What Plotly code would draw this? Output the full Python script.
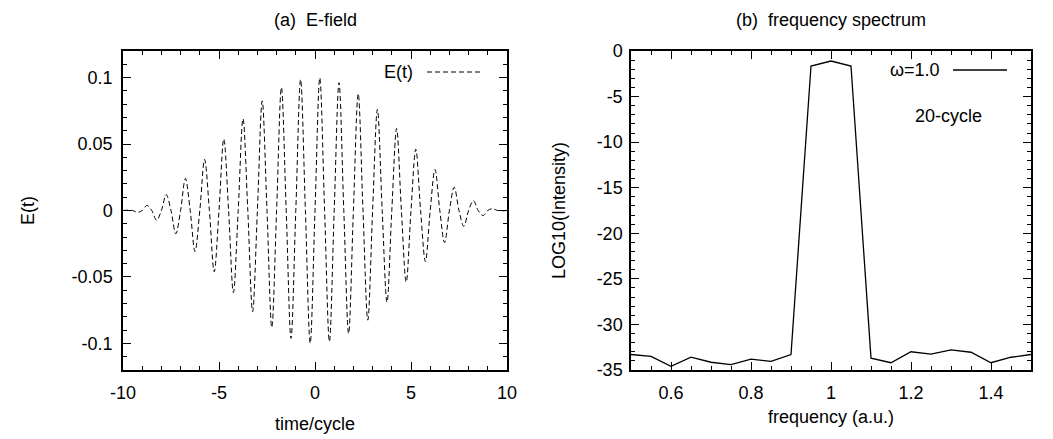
import plotly.graph_objects as go

# ---------------- data ----------------
# (a) E-field: extrema and zero crossings
t_extrema = [-9.75, -9.25, -8.75, -8.25, -7.75, -7.25, -6.75, -6.25, -5.75, -5.25,
             -4.75, -4.25, -3.75, -3.25, -2.75, -2.25, -1.75, -1.25, -0.75, -0.25,
             0.25, 0.75, 1.25, 1.75, 2.25, 2.75, 3.25, 3.75, 4.25, 4.75,
             5.25, 5.75, 6.25, 6.75, 7.25, 7.75, 8.25, 8.75, 9.25, 9.75]
e_extrema = [0.0002, -0.0014, 0.0038, -0.0074, 0.0119, -0.0175, 0.0241, -0.0309, 0.0384, -0.0461,
             0.0539, -0.0617, 0.0691, -0.0761, 0.0825, -0.0880, 0.0926, -0.0962, 0.0986, -0.0998,
             0.0998, -0.0986, 0.0962, -0.0926, 0.0880, -0.0825, 0.0761, -0.0691, 0.0617, -0.0539,
             0.0461, -0.0384, 0.0309, -0.0241, 0.0175, -0.0119, 0.0074, -0.0038, 0.0014, -0.0002]
t_zero = [-10.0, -9.5, -9.0, -8.5, -8.0, -7.5, -7.0, -6.5, -6.0, -5.5, -5.0,
          -4.5, -4.0, -3.5, -3.0, -2.5, -2.0, -1.5, -1.0, -0.5, 0.0,
          0.5, 1.0, 1.5, 2.0, 2.5, 3.0, 3.5, 4.0, 4.5, 5.0,
          5.5, 6.0, 6.5, 7.0, 7.5, 8.0, 8.5, 9.0, 9.5, 10.0]

# (b) frequency spectrum
freq = [0.50, 0.55, 0.60, 0.65, 0.70, 0.75, 0.80, 0.85, 0.90, 0.95, 1.00,
        1.05, 1.10, 1.15, 1.20, 1.25, 1.30, 1.35, 1.40, 1.45, 1.50]
log_intensity = [-33.3, -33.5, -34.6, -33.6, -34.15, -34.4, -33.8, -34.05, -33.3, -1.65, -1.1,
                 -1.65, -33.7, -34.2, -33.0, -33.25, -32.8, -33.05, -34.2, -33.6, -33.3]

# tick labels (hyphen minus as in the original)
x1_ticks = [-10, -5, 0, 5, 10]
x1_text = ["-10", "-5", "0", "5", "10"]
y1_ticks = [-0.1, -0.05, 0, 0.05, 0.1]
y1_text = ["-0.1", "-0.05", "0", "0.05", "0.1"]
x2_ticks = [0.6, 0.8, 1.0, 1.2, 1.4]
x2_text = ["0.6", "0.8", "1", "1.2", "1.4"]
y2_ticks = [-35, -30, -25, -20, -15, -10, -5, 0]
y2_text = ["-35", "-30", "-25", "-20", "-15", "-10", "-5", "0"]

# merge the E-field points in time order
pts = sorted([(t, 0.0) for t in t_zero] + list(zip(t_extrema, e_extrema)))
t_all = [p[0] for p in pts]
e_all = [p[1] for p in pts]

FONT = "Liberation Sans, Arial, Helvetica, sans-serif"
FS = 18

fig = go.Figure()
fig.add_trace(go.Scatter(x=t_all, y=e_all, mode="lines", name="E(t)",
                         line=dict(color="black", width=1, dash="5px,3px", shape="spline", smoothing=1.0),
                         xaxis="x", yaxis="y", showlegend=False))
fig.add_trace(go.Scatter(x=freq, y=log_intensity, mode="lines", name="ω=1.0",
                         line=dict(color="black", width=1.3),
                         xaxis="x2", yaxis="y2", showlegend=False))

OFF = 8  # page body margin
W, H = 1053 - OFF, 439 - OFF
L, R, T, B = 123 - OFF, 1053 - 1031, 51 - OFF, 439 - 370
PW = W - L - R
PH = H - T - B
xd1 = [0, 384 / PW]
xd2 = [(631 - 123) / PW, 1]

common = dict(showgrid=False, zeroline=False, showline=True, linecolor="black", linewidth=1.5,
              mirror="allticks", ticks="inside", ticklen=8, tickwidth=1, tickcolor="black",
              tickmode="array", automargin=False,
              tickfont=dict(family=FONT, size=FS, color="black"))
minor = dict(ticks="inside", ticklen=4, tickwidth=1, tickcolor="black", showgrid=False)

fig.update_layout(
    width=W, height=H,
    margin=dict(l=L, r=R, t=T, b=B, autoexpand=False),
    paper_bgcolor="white", plot_bgcolor="white",
    font=dict(family=FONT, size=FS, color="black"),
    xaxis=dict(domain=xd1, range=[-10, 10], tickvals=x1_ticks, ticktext=x1_text,
               minor=dict(dtick=1, tick0=0, **minor), ticklabelstandoff=6,
               title=dict(text="time/cycle", font=dict(size=FS), standoff=15), anchor="y", **common),
    yaxis=dict(domain=[0, 1], range=[-0.12, 0.12], tickvals=y1_ticks, ticktext=y1_text,
               minor=dict(dtick=0.01, tick0=0, **minor), ticklabelstandoff=5,
               title=dict(text="E(t)", font=dict(size=FS), standoff=32), anchor="x", **common),
    xaxis2=dict(domain=xd2, range=[0.5, 1.5], tickvals=x2_ticks, ticktext=x2_text,
                minor=dict(dtick=0.05, tick0=0, **minor), ticklabelstandoff=6,
                title=dict(text="frequency (a.u.)", font=dict(size=FS), standoff=8), anchor="y2", **common),
    yaxis2=dict(domain=[0, 1], range=[-35, 0], tickvals=y2_ticks, ticktext=y2_text,
                minor=dict(dtick=1, tick0=0, **minor), ticklabelstandoff=3,
                title=dict(text="LOG10(Intensity)", font=dict(size=FS), standoff=26), anchor="x2", **common),
)

# panel titles (above the plot area)
ty = (370 - 20) / PH
fig.add_annotation(text="(a)  E-field", xref="x domain", yref="paper", x=0.5, y=ty,
                   showarrow=False, xanchor="center", yanchor="middle", font=dict(size=FS))
fig.add_annotation(text="(b)  frequency spectrum", xref="x2 domain", yref="paper", x=0.5, y=ty,
                   showarrow=False, xanchor="center", yanchor="middle", font=dict(size=FS))

# gnuplot-style keys (text then line sample)
fig.add_annotation(text="E(t)", xref="x domain", yref="y domain", x=(415 - 123) / 384, y=(370 - 72) / 319,
                   showarrow=False, xanchor="right", yanchor="middle", font=dict(size=FS))
fig.add_shape(type="line", xref="x domain", yref="y domain",
              x0=(427 - 123) / 384, x1=(482 - 123) / 384, y0=(370 - 72) / 319, y1=(370 - 72) / 319,
              line=dict(color="black", width=1, dash="5px,3px"))
fig.add_annotation(text="ω=1.0", xref="x2 domain", yref="y2 domain", x=(942 - 631) / 400, y=(370 - 70) / 319,
                   showarrow=False, xanchor="right", yanchor="middle", font=dict(size=FS))
fig.add_shape(type="line", xref="x2 domain", yref="y2 domain",
              x0=(953 - 631) / 400, x1=(1007 - 631) / 400, y0=(370 - 70) / 319, y1=(370 - 70) / 319,
              line=dict(color="black", width=1.3))
fig.add_annotation(text="20-cycle", xref="x2 domain", yref="y2 domain", x=(948 - 631) / 400, y=(370 - 116) / 319,
                   showarrow=False, xanchor="center", yanchor="middle", font=dict(size=FS))

fig.write_html("out.html")
